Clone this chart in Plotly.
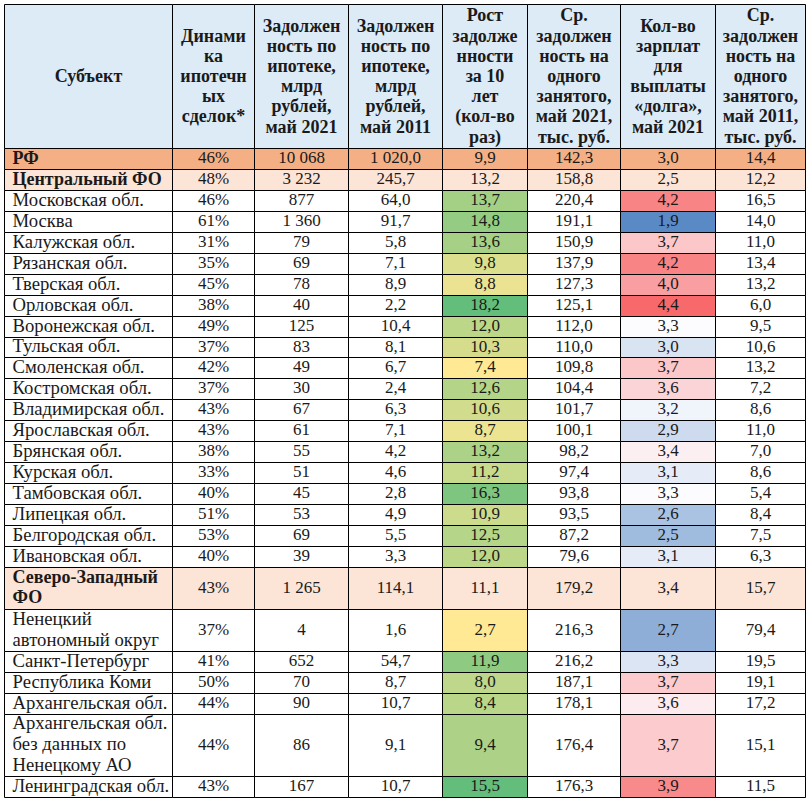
import plotly.graph_objects as go

# ---------------- data ----------------
subjects = [
    "РФ", "Центральный ФО", "Московская обл.", "Москва", "Калужская обл.",
    "Рязанская обл.", "Тверская обл.", "Орловская обл.", "Воронежская обл.",
    "Тульская обл.", "Смоленская обл.", "Костромская обл.", "Владимирская обл.",
    "Ярославская обл.", "Брянская обл.", "Курская обл.", "Тамбовская обл.",
    "Липецкая обл.", "Белгородская обл.", "Ивановская обл.",
    "Северо-Западный\nФО", "Ненецкий\nавтономный округ", "Санкт-Петербург",
    "Республика Коми", "Архангельская обл.",
    "Архангельская обл.\nбез данных по\nНенецкому АО", "Ленинградская обл.",
]
levels = (["country", "district"] + ["region"] * 18 + ["district"] + ["region"] * 6)
districts = (["РФ"] + ["ЦФО"] * 19 + ["СЗФО"] * 7)

deals_pct = [46, 48, 46, 61, 31, 35, 45, 38, 49, 37, 42, 37, 43, 43, 38, 33, 40, 51, 53, 40,
             43, 37, 41, 50, 44, 44, 43]
debt_2021 = [10068, 3232, 877, 1360, 79, 69, 78, 40, 125, 83, 49, 30, 67, 61, 55, 51, 45, 53, 69, 39,
             1265, 4, 652, 70, 90, 86, 167]
debt_2011 = [1020.0, 245.7, 64.0, 91.7, 5.8, 7.1, 8.9, 2.2, 10.4, 8.1, 6.7, 2.4, 6.3, 7.1, 4.2, 4.6,
             2.8, 4.9, 5.5, 3.3, 114.1, 1.6, 54.7, 8.7, 10.7, 9.1, 10.7]
growth = [9.9, 13.2, 13.7, 14.8, 13.6, 9.8, 8.8, 18.2, 12.0, 10.3, 7.4, 12.6, 10.6, 8.7, 13.2, 11.2,
          16.3, 10.9, 12.5, 12.0, 11.1, 2.7, 11.9, 8.0, 8.4, 9.4, 15.5]
per_emp_2021 = [142.3, 158.8, 220.4, 191.1, 150.9, 137.9, 127.3, 125.1, 112.0, 110.0, 109.8, 104.4,
                101.7, 100.1, 98.2, 97.4, 93.8, 93.5, 87.2, 79.6, 179.2, 216.3, 216.2, 187.1,
                178.1, 176.4, 176.3]
salaries = [3.0, 2.5, 4.2, 1.9, 3.7, 4.2, 4.0, 4.4, 3.3, 3.0, 3.7, 3.6, 3.2, 2.9, 3.4, 3.1, 3.3, 2.6,
            2.5, 3.1, 3.4, 2.7, 3.3, 3.7, 3.6, 3.7, 3.9]
per_emp_2011 = [14.4, 12.2, 16.5, 14.0, 11.0, 13.4, 13.2, 6.0, 9.5, 10.6, 13.2, 7.2, 8.6, 11.0, 7.0,
                8.6, 5.4, 8.4, 7.5, 6.3, 15.7, 79.4, 19.5, 19.1, 17.2, 15.1, 11.5]

headers = [
    "Субъект",
    "Динами\nка\nипотечн\nых\nсделок*",
    "Задолжен\nность по\nипотеке,\nмлрд\nрублей,\nмай 2021",
    "Задолжен\nность по\nипотеке,\nмлрд\nрублей,\nмай 2011",
    "Рост\nзадолже\nнности\nза 10\nлет\n(кол-во\nраз)",
    "Ср.\nзадолжен\nность на\nодного\nзанятого,\nмай 2021,\nтыс. руб.",
    "Кол-во\nзарплат\nдля\nвыплаты\n«долга»,\nмай 2021",
    "Ср.\nзадолжен\nность на\nодного\nзанятого,\nмай 2011,\nтыс. руб.",
]

# ---------------- styles ----------------
COL_W = [168, 82, 94, 94, 85, 93, 95, 90]
HEADER_PX = 144
LINE_PX = 20.95
HEADER_LINE_PX = 20.2
FONT = "Liberation Serif"
NUM_SIZE = 17
NAME_SIZE = 18.7
NAME_BOLD_SIZE = 18
HEAD_SIZE = 18
TEXT_COLOR = "#1a1a1a"

HEAD_FILL = "#DDEBF7"
COUNTRY_FILL = "#F4B084"
DISTRICT_FILL = "#FCE4D6"
WHITE = "#FFFFFF"

YELLOW = (255, 233, 148)
GREEN = (99, 190, 123)
RED = (248, 105, 107)
MIDW = (252, 252, 255)
BLUE = (90, 138, 198)

GROWTH_SCALE = {"ЦФО": (7.4, 18.2), "СЗФО": (2.7, 15.5)}
SALARY_SCALE = {"ЦФО": (1.9, 3.3, 4.4), "СЗФО": (2.3, 3.55, 4.0)}


def lerp(c1, c2, t):
    t = max(0.0, min(1.0, t))
    return "rgb(%d,%d,%d)" % tuple(round(a + (b - a) * t) for a, b in zip(c1, c2))


def growth_color(v, d):
    lo, hi = GROWTH_SCALE[d]
    return lerp(YELLOW, GREEN, (v - lo) / (hi - lo))


def salary_color(v, d):
    lo, mid, hi = SALARY_SCALE[d]
    if v >= mid:
        return lerp(MIDW, RED, (v - mid) / (hi - mid))
    return lerp(MIDW, BLUE, (mid - v) / (mid - lo))


def fmt_int(v):
    return f"{v:,}".replace(",", " ")


def fmt_dec(v):
    return f"{v:,.1f}".replace(",", " ").replace(".", ",")


columns = [
    subjects,
    [f"{v}%" for v in deals_pct],
    [fmt_int(v) for v in debt_2021],
    [fmt_dec(v) for v in debt_2011],
    [fmt_dec(v) for v in growth],
    [fmt_dec(v) for v in per_emp_2021],
    [fmt_dec(v) for v in salaries],
    [fmt_dec(v) for v in per_emp_2011],
]

# column edges
x_edges = [0]
for w in COL_W:
    x_edges.append(x_edges[-1] + w)

# row edges (pixel units, rounded for crisp lines)
row_lines = [s.count("\n") + 1 for s in subjects]
y_edges = [0, HEADER_PX]
acc = HEADER_PX
for n in row_lines:
    acc += n * LINE_PX
    y_edges.append(round(acc))

shapes = []
for c in range(len(COL_W)):
    shapes.append(dict(type="rect", xref="x", yref="y", x0=x_edges[c], x1=x_edges[c + 1],
                       y0=y_edges[0], y1=y_edges[1], fillcolor=HEAD_FILL,
                       line=dict(color="black", width=1), layer="below"))
for r, lvl in enumerate(levels):
    for c in range(len(COL_W)):
        if lvl == "country":
            fill = COUNTRY_FILL
        elif lvl == "district":
            fill = DISTRICT_FILL
        elif c == 4:
            fill = growth_color(growth[r], districts[r])
        elif c == 6:
            fill = salary_color(salaries[r], districts[r])
        else:
            fill = WHITE
        shapes.append(dict(type="rect", xref="x", yref="y", x0=x_edges[c], x1=x_edges[c + 1],
                           y0=y_edges[r + 1], y1=y_edges[r + 2], fillcolor=fill,
                           line=dict(color="black", width=1), layer="below"))

hx, hy, ht = [], [], []
for c, h in enumerate(headers):
    lines = h.split("\n")
    mid = (y_edges[0] + y_edges[1]) / 2 + 1
    for i, ln in enumerate(lines):
        hx.append((x_edges[c] + x_edges[c + 1]) / 2)
        hy.append(mid + (i - (len(lines) - 1) / 2) * HEADER_LINE_PX)
        ht.append(ln)

lx, ly, lt, lw, ls = [], [], [], [], []
cx, cy, ct = [], [], []
for r in range(len(subjects)):
    y0, y1 = y_edges[r + 1], y_edges[r + 2]
    mid = (y0 + y1) / 2
    lines = subjects[r].split("\n")
    bold = levels[r] != "region"
    for i, ln in enumerate(lines):
        lx.append(x_edges[0] + 8)
        ly.append(mid + (i - (len(lines) - 1) / 2) * LINE_PX)
        lt.append(ln)
        lw.append(700 if bold else 400)
        ls.append(NAME_BOLD_SIZE if bold else NAME_SIZE)
    for c in range(1, len(columns)):
        cx.append((x_edges[c] + x_edges[c + 1]) / 2)
        cy.append(mid)
        ct.append(columns[c][r])

fig = go.Figure()
fig.add_trace(go.Scatter(x=hx, y=hy, text=ht, mode="text", textposition="middle center",
                         textfont=dict(family=FONT, size=HEAD_SIZE, color=TEXT_COLOR, weight=700),
                         hoverinfo="skip", showlegend=False))
fig.add_trace(go.Scatter(x=lx, y=ly, text=lt, mode="text", textposition="middle right",
                         textfont=dict(family=FONT, size=ls, color=TEXT_COLOR, weight=lw),
                         hoverinfo="skip", showlegend=False))
fig.add_trace(go.Scatter(x=cx, y=cy, text=ct, mode="text", textposition="middle center",
                         textfont=dict(family=FONT, size=NUM_SIZE, color=TEXT_COLOR),
                         hoverinfo="skip", showlegend=False))

W, H = 810, 800
ML, MR, MT, MB = 3, 3, 3, 0
fig.update_layout(
    width=W, height=H,
    margin=dict(l=ML, r=MR, t=MT, b=MB),
    paper_bgcolor="white", plot_bgcolor="white",
    shapes=shapes,
    xaxis=dict(range=[-1.5, W - ML - MR - 1.5], visible=False, fixedrange=True),
    yaxis=dict(range=[H - MT - MB - 1.5, -1.5], visible=False, fixedrange=True),
)
fig.write_html(
    "out.html",
    config={"displayModeBar": False},
    post_script="document.body.style.margin='0';document.body.style.overflow='hidden';",
)
